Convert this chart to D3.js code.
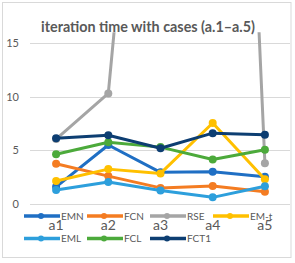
<!DOCTYPE html>
<html><head><meta charset="utf-8">
<script src="https://cdn.jsdelivr.net/npm/d3@7"></script>
<style>html,body{margin:0;padding:0;background:#fff;}svg{display:block;}</style>
</head><body><svg id="c" width="295" height="263"></svg>
<script>
const categories = ["a1","a2","a3","a4","a5"];
const seriesNames = ["EMN","FCN","RSE","EM-t","EML","FCL","FCT1"];
const EMN  = [1.6, 5.5, 2.95, 3.0, 2.55];
const FCN  = [3.75, 2.6, 1.5, 1.68, 1.15];
const RSE  = [6.05, 10.3, 62, 113, 3.8];
const EMt  = [2.15, 3.25, 2.85, 7.55, 2.3];
const EML  = [1.3, 2.05, 1.25, 0.62, 1.65];
const FCL  = [4.63, 5.75, 5.3, 4.15, 5.05];
const FCT1 = [6.12, 6.4, 5.2, 6.6, 6.45];
const yTicks = [0, 5, 10, 15];
const title = "iteration time with cases (a.1\u2013a.5)";
const colors = ["#1f6fc4","#f47c22","#a5a5a5","#ffc000","#2d9fdc","#4caa3b","#0d3e72"];
const seriesValues = [EMN, FCN, RSE, EMt, EML, FCL, FCT1];

const svg = d3.select("#c");
const font = "Lato, 'Open Sans', sans-serif";
const grey = "#595959";

svg.append("rect").attr("x",2.5).attr("y",2.5).attr("width",288.5).attr("height",255)
  .attr("fill","#fff").attr("stroke","#d9d9d9").attr("stroke-width",1);

const x = d3.scaleBand().domain(categories).range([30, 291]);
const y = d3.scaleLinear().domain([0, 16]).range([204, 32.3]);

// gridlines
svg.append("g").selectAll("line").data(yTicks).join("line")
  .attr("x1",30).attr("x2",290).attr("y1",d=>Math.round(y(d))+0.5).attr("y2",d=>Math.round(y(d))+0.5)
  .attr("stroke","#d9d9d9").attr("stroke-width",1);

// y axis labels
const yAxis = d3.axisLeft(y).tickValues(yTicks).tickSize(0).tickPadding(0);
const gy = svg.append("g").attr("transform","translate(19,0)").call(yAxis);
gy.select(".domain").remove();
gy.selectAll("text").attr("font-family",font).attr("font-size",11).attr("fill",grey);

// x axis labels
const xAxis = d3.axisBottom(x).tickSize(0).tickPadding(0);
const gx = svg.append("g").attr("transform","translate(0,220)").call(xAxis);
gx.select(".domain").remove();
gx.selectAll("text").attr("font-family",font).attr("font-size",14).attr("fill",grey);

// clip
svg.append("clipPath").attr("id","plotclip").append("rect")
  .attr("x",0).attr("y",32.3).attr("width",295).attr("height",204-32.3+6);

const line = d3.line().x((d,i)=>x(categories[i])+x.bandwidth()/2).y(d=>y(d));
const plot = svg.append("g").attr("clip-path","url(#plotclip)");
seriesValues.forEach((vals, k) => {
  const g = plot.append("g");
  g.append("path").datum(vals).attr("d",line).attr("fill","none")
    .attr("stroke",colors[k]).attr("stroke-width",3).attr("stroke-linejoin","round");
  g.selectAll("circle").data(vals).join("circle")
    .attr("cx",(d,i)=>x(categories[i])+x.bandwidth()/2).attr("cy",d=>y(d)).attr("r",4)
    .attr("fill",colors[k]);
});

// legend
const legX = [24, 87, 150, 213];
const legY = [216, 238.5];
const leg = svg.append("g");
seriesNames.forEach((name, k) => {
  const lx = legX[k % 4], ly = legY[Math.floor(k / 4)];
  leg.append("line").attr("x1",lx).attr("x2",lx+36).attr("y1",ly).attr("y2",ly)
    .attr("stroke",colors[k]).attr("stroke-width",3.5);
  leg.append("circle").attr("cx",lx+17).attr("cy",ly).attr("r",3).attr("fill",colors[k]);
  leg.append("text").attr("x",lx+37).attr("y",ly).attr("dy","0.35em")
    .attr("font-family",font).attr("font-size",10).attr("fill",grey).text(name);
});

// title
const t = svg.append("text").attr("x",148).attr("y",27).attr("dy","0.35em").attr("text-anchor","middle")
  .attr("font-family",font).attr("font-weight","bold").attr("font-size",14).attr("fill",grey).text(title);
const w = t.node().getComputedTextLength();
t.attr("font-size", 14 * 214 / w);
</script></body></html>
